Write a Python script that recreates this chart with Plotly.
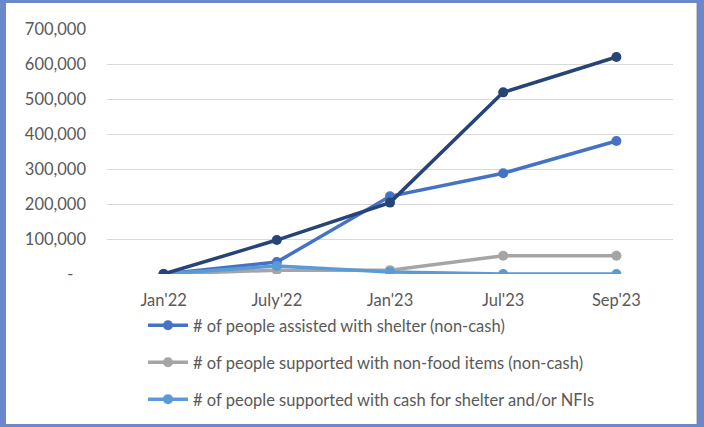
import plotly.graph_objects as go

# Reporting periods and people reached per activity
periods = ["Jan'22", "July'22", "Jan'23", "Jul'23", "Sep'23"]
total_reached = [0, 97000, 204000, 519000, 620000]
shelter_non_cash = [0, 34000, 222000, 288000, 380000]
nfi_non_cash = [0, 11000, 11000, 52000, 52000]
cash_shelter_nfi = [0, 23000, 6000, 0, 0]

y_ticks = [0, 100000, 200000, 300000, 400000, 500000, 600000, 700000]
y_tick_text = ["-\u00a0\u00a0\u00a0", "100,000", "200,000", "300,000",
               "400,000", "500,000", "600,000", "700,000"]

FONT = "Lato"
FS = 16.5
TEXT_GREY = "#595959"
BORDER = "#6A88CA"

fig = go.Figure()

series = [
    ("# of people assisted with shelter (non-cash)", shelter_non_cash, "#4472C4", True),
    ("# of people supported with non-food items (non-cash)", nfi_non_cash, "#A5A5A5", True),
    ("# of people supported with cash for shelter and/or NFIs", cash_shelter_nfi, "#5B9BD5", True),
    ("Total", total_reached, "#264478", False),
]
for i, (name, vals, color, show) in enumerate(series):
    fig.add_trace(go.Scatter(
        x=periods, y=vals, name=name, mode="lines+markers",
        line=dict(color=color, width=3.5),
        marker=dict(color=color, size=10),
        showlegend=show, legendgroup=f"g{i}",
    ))

L, R, T, B = 107, 673, 29, 274
W, H = 704, 427
pw, ph = R - L, B - T

def px_x(v):
    return (v - L) / pw

def px_y(v):
    return (B - v) / ph

fig.update_layout(
    width=W, height=H,
    margin=dict(l=L, r=W - R, t=T, b=H - B, pad=0, autoexpand=False),
    paper_bgcolor=BORDER,
    plot_bgcolor="white",
    font=dict(family=FONT, size=FS, color=TEXT_GREY),
    showlegend=True,
    legend=dict(
        x=px_x(143), y=px_y(308), xanchor="left", yanchor="top",
        orientation="v", traceorder="grouped", tracegroupgap=12.5,
        bgcolor="rgba(0,0,0,0)", font=dict(family=FONT, size=FS, color=TEXT_GREY),
        itemwidth=40,
    ),
    shapes=[
        dict(type="rect", xref="paper", yref="paper", layer="below",
             x0=px_x(6), x1=px_x(696), y0=px_y(424), y1=px_y(3),
             fillcolor="white", line=dict(width=0)),
        dict(type="line", xref="paper", yref="paper", layer="below",
             x0=px_x(696.5), x1=px_x(696.5), y0=px_y(424), y1=px_y(3),
             line=dict(color="#C8C8C8", width=1)),
    ],
)

fig.update_xaxes(
    type="category", range=[-0.5, 4.5], showgrid=False, zeroline=False,
    showline=False, ticks="", ticklabelstandoff=14,
    tickfont=dict(family=FONT, size=FS, color=TEXT_GREY),
)
fig.update_yaxes(
    range=[0, 700000], tickvals=y_ticks, ticktext=y_tick_text,
    showgrid=True, gridcolor="#D9D9D9", gridwidth=1,
    zeroline=False, showline=False, ticks="", ticklabelstandoff=20,
    tickfont=dict(family=FONT, size=FS, color=TEXT_GREY),
)

fig.write_html("out.html")
